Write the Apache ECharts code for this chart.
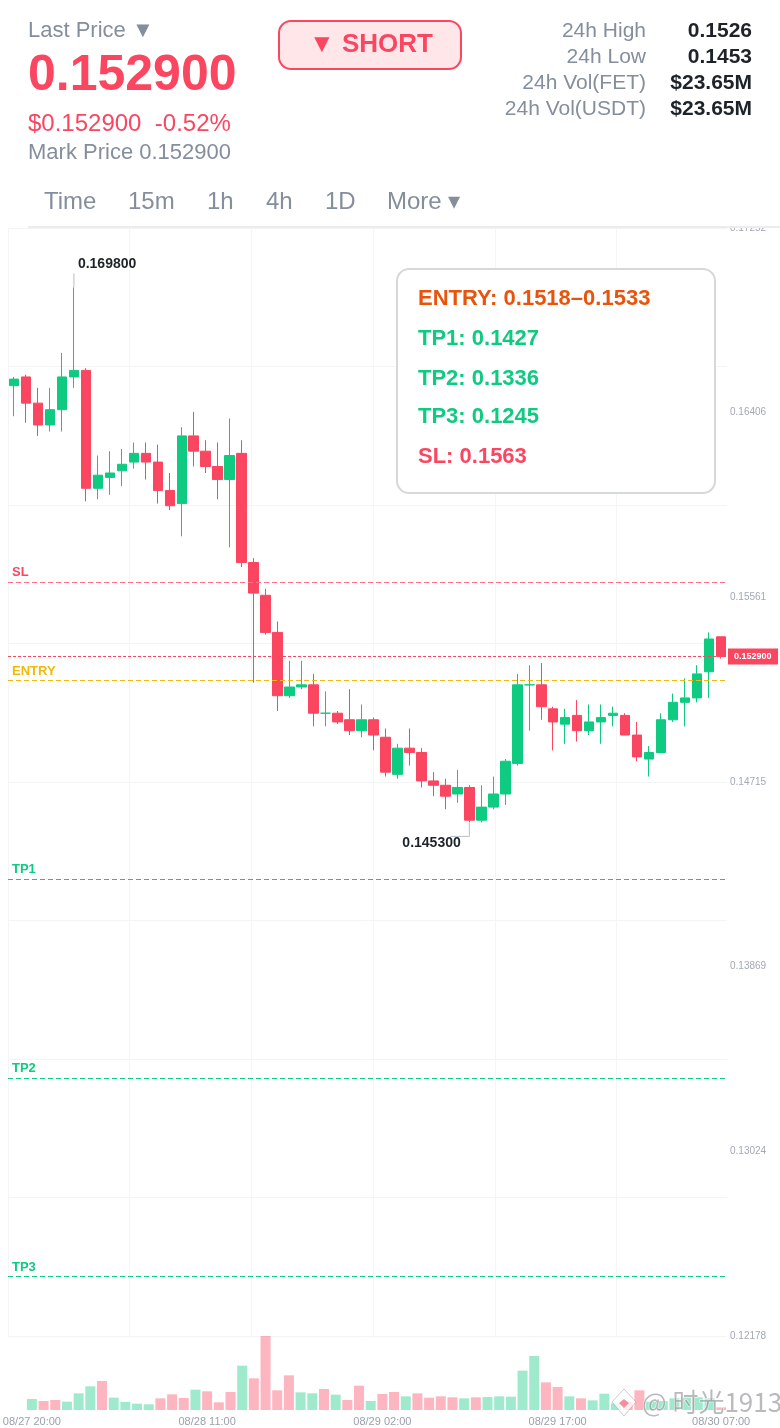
<!DOCTYPE html>
<html><head><meta charset="utf-8">
<style>html,body{margin:0;padding:0;background:#fff}#c{width:780px;height:1428px}</style>
<script src="https://cdn.jsdelivr.net/npm/echarts@6/dist/echarts.min.js"></script>
</head><body><div id="c"></div>
<script>
const opens =[.1653,.1657,.1645,.1635,.1642,.1657,.1660,.1606,.1611,.1614,.1618,.1622,.1618,.1605,.1599,.1630,.1623,.1616,.1610,.1622,.1572,.1557,.1540,.1511,.1515,.1516,.1503,.1503,.1500,.1495,.1500,.1492,.1475,.1487,.1485,.1472,.1470,.1466,.1469,.1454,.1460,.1466,.1480,.1516,.1516,.1505,.1498,.1502,.1495,.1499,.1502,.1502,.1493,.1482,.1485,.1500,.1508,.1510,.1522,.1538];
const closes=[.1656,.1645,.1635,.1642,.1657,.1660,.1606,.1612,.1613,.1617,.1622,.1618,.1605,.1598,.1630,.1623,.1616,.1610,.1621,.1572,.1558,.1540,.1511,.1515,.1516,.1503,.1503,.1499,.1495,.1500,.1493,.1476,.1487,.1485,.1472,.1470,.1465,.1469,.1454,.1460,.1466,.1481,.1516,.1516,.1506,.1499,.1501,.1495,.1499,.1501,.1503,.1493,.1483,.1485,.1500,.1508,.1510,.1521,.1537,.1529];
const lows  =[.1639,.1636,.1630,.1632,.1632,.1652,.1600,.1601,.1603,.1607,.1615,.1610,.1599,.1596,.1584,.1616,.1613,.1601,.1579,.1570,.1517,.1539,.1504,.1510,.1514,.1497,.1497,.1498,.1493,.1492,.1486,.1474,.1473,.1479,.1469,.1465,.1459,.1462,.1453,.1453,.1459,.1461,.1479,.1495,.1500,.1486,.1489,.1490,.1493,.1489,.1497,.1493,.1481,.1474,.1485,.1499,.1497,.1508,.1510,.1528];
const highs =[.1657,.1658,.1652,.1652,.1668,.1698,.1661,.1621,.1623,.1624,.1627,.1627,.1626,.1613,.1634,.1641,.1628,.1627,.1638,.1628,.1574,.1560,.1545,.1527,.1527,.1521,.1513,.1504,.1514,.1507,.1501,.1496,.1489,.1496,.1487,.1476,.1473,.1477,.1470,.1470,.1474,.1482,.1521,.1525,.1526,.1506,.1505,.1509,.1507,.1507,.1506,.1503,.1499,.1488,.1503,.1512,.1519,.1525,.1540,.1538];
const volumes=[33,27,30,25,50,71,87,37,24,19,17,35,47,36,61,56,23,54,133,95,222,59,104,53,50,63,46,30,73,27,48,54,41,50,37,41,38,35,38,39,41,40,118,162,83,69,41,35,29,49,20,25,59,25,27,35,38,38,35,8];
const categories=[];
for(let i=0;i<60;i++){const d=new Date(Date.UTC(2025,7,27,20+i));const p=n=>String(n).padStart(2,'0');categories.push(p(d.getUTCMonth()+1)+'/'+p(d.getUTCDate())+' '+p(d.getUTCHours())+':00');}
const xLabelIndexes=[0,15,30,45,59];
const yTickLabels=[0.12178,0.13024,0.13869,0.14715,0.15561,0.16406,0.17252];
const yMin=0.12178,yMax=0.17252;
const yGridValues=[0.12178,0.12812,0.13447,0.14081,0.14715,0.15349,0.15983,0.16618,0.17252];
const xGridValues=[0,121.7,243.4,365.1,486.8,608.5];
const levels=[['SL',0.1563,'#fb6f84'],['ENTRY',0.1518,'#f0b90b'],['TP1',0.1427,'#0ecb81'],['TP2',0.1336,'#0ecb81'],['TP3',0.1245,'#0ecb81']];
const lastPrice=0.1529;
const extremes=[[5,0.1698,'0.169800','up'],[38,0.1453,'0.145300','down']];
const GREEN='#0ecb81',RED='#fb4661',GRAY='#848e9c',DARK='#1e2329',FONT='"Liberation Sans",Arial,sans-serif';

function T(x,y,text,size,fill,opt){return Object.assign({type:'text',z:101,silent:true,style:{x,y,text,fill,font:(opt&&opt.bold?'bold ':'')+size+'px '+FONT,textAlign:(opt&&opt.align)||'left',textVerticalAlign:'middle'}});}
const stats=[['24h High','0.1526',31],['24h Low','0.1453',57],['24h Vol(FET)','$23.65M',83],['24h Vol(USDT)','$23.65M',109]];
const tabs=[['Time',44],['15m',128],['1h',207],['4h',266],['1D',325],['More ▾',387]];
const boxLines=[['ENTRY: 0.1518–0.1533','#e8540c',299],['TP1: 0.1427',GREEN,339],['TP2: 0.1336',GREEN,379],['TP3: 0.1245',GREEN,417],['SL: 0.1563',RED,457]];
const graphics=[
 {type:'rect',z:100,silent:true,shape:{x:0,y:0,width:780,height:228},style:{fill:'#fff'}},
 {type:'rect',z:101,silent:true,shape:{x:28,y:226,width:752,height:2},style:{fill:'#eaecef'}},
 T(28,31,'Last Price ▼',22,GRAY),
 T(28,76,'0.152900',50,RED,{bold:true}),
 T(28,124,'$0.152900  -0.52%',24,RED),
 T(28,153,'Mark Price 0.152900',22,GRAY),
 {type:'rect',z:101,silent:true,shape:{x:279,y:21,width:182,height:48,r:12},style:{fill:'#fee6e9',stroke:RED,lineWidth:2}},
 T(371,45,'▼ SHORT',26,RED,{bold:true,align:'center'}),
 {type:'rect',z:101,silent:true,shape:{x:397,y:269,width:318,height:224,r:12},style:{fill:'#fff',stroke:'#d5d8dc',lineWidth:2}},
 ...stats.flatMap(s=>[T(646,s[2],s[0],21,GRAY,{align:'right'}),T(752,s[2],s[1],21,DARK,{align:'right',bold:true})]),
 ...tabs.map(t=>T(t[1],202,t[0],24,GRAY)),
 ...boxLines.map(b=>T(418,b[2],b[0],22,b[1],{bold:true})),
 {type:'group',z:110,silent:true,children:[
  {type:'polygon',z:110,shape:{points:[[624,1389],[636,1402],[624,1416],[612,1402]]},style:{fill:'rgba(255,255,255,.75)',stroke:'rgba(150,150,150,.5)',lineWidth:1}},
  {type:'polygon',z:111,shape:{points:[[624,1399],[629,1403],[624,1408],[619,1403]]},style:{fill:'rgba(240,120,135,.8)'}}
 ]},
 {type:'text',z:112,silent:true,style:{x:642,y:1402,text:'@ 时光1913',fill:'rgba(130,130,135,.55)',stroke:'rgba(255,255,255,.8)',lineWidth:1,font:'26px "Noto Sans CJK SC","Liberation Sans"',textVerticalAlign:'middle'}}
];
const levelLines=levels.map(l=>({yAxis:l[1],lineStyle:{color:l[2],type:[5,3],width:1},label:{show:true,formatter:l[0],position:'insideStartTop',distance:[4,3],color:l[2]==='#fb6f84'?RED:l[2],fontWeight:'bold',fontSize:13,fontFamily:FONT}}));
levelLines.push({yAxis:lastPrice,lineStyle:{color:RED,type:[3,2],width:1},label:{show:true,formatter:'0.152900',position:'end',distance:1,color:'#fff',backgroundColor:RED,fontSize:9,fontWeight:'bold',fontFamily:FONT,padding:[4,5,3,6],width:39}});

const chart=echarts.init(document.getElementById('c'),null,{renderer:'canvas',width:780,height:1428});
chart.setOption({
 animation:false,backgroundColor:'#fff',
 grid:[{left:8,right:53,top:228,height:1108,containLabel:false},{left:8,right:53,top:1336,height:74}],
 graphic:{elements:graphics},
 xAxis:[
  {type:'category',gridIndex:0,data:categories,axisLine:{show:false},axisTick:{show:false},axisLabel:{show:false},splitLine:{show:false}},
  {type:'category',gridIndex:1,data:categories,axisLine:{show:false},axisTick:{show:false},splitLine:{show:false},
   axisLabel:{interval:(i)=>xLabelIndexes.includes(i),hideOverlap:false,color:'#9aa1ad',fontSize:11,fontFamily:FONT,margin:6,showMinLabel:true,showMaxLabel:true}},
  {type:'value',gridIndex:0,min:0,max:719,axisLine:{show:false},axisLabel:{show:false},axisTick:{show:false,customValues:xGridValues},splitLine:{show:true,lineStyle:{color:'#f4f5f6',width:1}}}
 ],
 yAxis:[
  {type:'value',gridIndex:0,position:'right',min:yMin,max:yMax,scale:true,axisLine:{show:false},axisTick:{show:false,customValues:yGridValues},
   axisLabel:{customValues:yTickLabels,color:'#a3a8b2',fontSize:10,fontFamily:FONT,margin:3,formatter:v=>v.toFixed(5)},splitLine:{show:true,lineStyle:{color:'#f3f4f5',width:1}}},
  {type:'value',gridIndex:1,min:0,max:222,show:false}
 ],
 series:[
  {type:'candlestick',xAxisIndex:0,yAxisIndex:0,barWidth:10,data:opens.map((o,i)=>[o,closes[i],lows[i],highs[i]]),
   itemStyle:{color:GREEN,color0:RED,borderColor:GREEN,borderColor0:RED,borderWidth:1},
   markLine:{silent:true,symbol:'none',precision:5,animation:false,data:levelLines}},
  {type:'bar',xAxisIndex:1,yAxisIndex:1,barWidth:10,data:volumes,
   itemStyle:{color:p=>(closes[p.dataIndex]>opens[p.dataIndex]||(closes[p.dataIndex]===opens[p.dataIndex]))?'rgba(14,203,129,.4)':'rgba(251,70,97,.4)'}},
  {type:'custom',xAxisIndex:0,yAxisIndex:0,clip:false,silent:true,z:5,data:extremes,encode:{x:0,y:1},
   renderItem:(params,api)=>{
    const e=extremes[params.dataIndex];
    const c=api.coord([e[0],e[1]]);
    const up=e[3]==='up';
    const pts=up?[[c[0],c[1]],[c[0],c[1]-14]]:[[c[0],c[1]],[c[0],c[1]+14],[c[0]-19,c[1]+14]];
    return {type:'group',children:[
     {type:'polyline',shape:{points:pts},style:{stroke:'#b7bdc6',fill:'none',lineWidth:1}},
     {type:'text',style:{x:up?c[0]+4:c[0]-67,y:up?c[1]-23:c[1]+21,text:e[2],fill:DARK,font:'bold 14px '+FONT,textVerticalAlign:'middle'}}
    ]};
   }}
 ]
});
</script></body></html>
